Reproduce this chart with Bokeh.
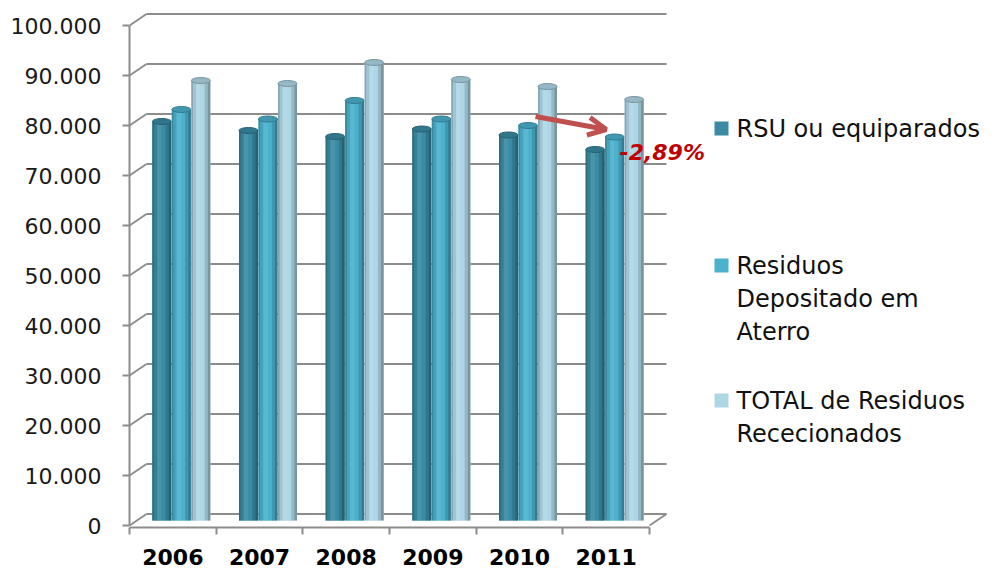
import numpy as np
from bokeh.plotting import figure
from bokeh.models import (Range1d, FixedTicker, Label, Arrow, OpenHead)
from bokeh.embed import file_html
from bokeh.resources import INLINE

# ---------------- data ----------------
years = ["2006", "2007", "2008", "2009", "2010", "2011"]
rsu = [79800, 78000, 76800, 78300, 77100, 74200]
aterro = [82200, 80300, 84000, 80300, 79000, 76700]
total = [88000, 87400, 91600, 88200, 86800, 84200]
legend_lines = [["RSU ou equiparados"],
                ["Residuos", "Depositado em", "Aterro"],
                ["TOTAL de Residuos", "Rececionados"]]
y_ticks = [0, 10000, 20000, 30000, 40000, 50000, 60000, 70000, 80000, 90000, 100000]
y_tick_labels = ["0", "10.000", "20.000", "30.000", "40.000", "50.000",
                 "60.000", "70.000", "80.000", "90.000", "100.000"]
change_label = "-2,89%"

# ---------------- layout ----------------
W, H = 995, 568
MB_L, MB_R, MB_T, MB_B = 129, 0, 10, 41
n = len(years)
PX_X = 520.0 / n          # px per category unit
PX_Y = 5.0 / 1000.0       # px per value unit
frame_w = W - MB_L - MB_R
frame_h = H - MB_T - MB_B
Y_LO = -400
x_range = Range1d(0, frame_w / PX_X)
y_range = Range1d(Y_LO, Y_LO + frame_h / PX_Y)
FRAME_BOTTOM = MB_T + frame_h

DX = 17 / PX_X            # back-wall depth offset
DY = 11.5 / PX_Y
BX = 8.5 / PX_X           # bar depth offset
BY = 5 / PX_Y

p = figure(width=W, height=H, x_range=x_range, y_range=y_range,
           output_backend="svg", toolbar_location=None,
           min_border_left=MB_L, min_border_right=MB_R,
           min_border_top=MB_T, min_border_bottom=MB_B)
p.outline_line_color = None
p.xgrid.visible = False
p.ygrid.visible = False
p.background_fill_color = "white"
p.border_fill_color = "white"

GRID = "#8c8c8c"

# back wall grid lines and side-wall diagonals
yt = np.array(y_ticks, dtype=float)
p.segment(x0=np.full(len(yt), DX), y0=yt + DY, x1=np.full(len(yt), n + DX), y1=yt + DY,
          line_color=GRID, line_width=2)
p.segment(x0=np.zeros(len(yt)), y0=yt, x1=np.full(len(yt), DX), y1=yt + DY,
          line_color=GRID, line_width=2)
# floor right diagonal
p.segment(x0=[n], y0=[0], x1=[n + DX], y1=[DY], line_color=GRID, line_width=2)


def shade(hexcol, f):
    h = hexcol.lstrip("#")
    r, g, b = (int(h[i:i + 2], 16) for i in (0, 2, 4))
    if f >= 1:
        t = f - 1
        r, g, b = (int(c + (255 - c) * t) for c in (r, g, b))
    else:
        r, g, b = (int(c * f) for c in (r, g, b))
    return "#%02x%02x%02x" % (r, g, b)


base_cols = ["#3a8ba3", "#4bb1cd", "#aed6e5"]
series = [rsu, aterro, total]
cx = np.arange(n) + 0.5
bar_w = 19 / PX_X
offs = [-19.5 / PX_X, 0.0, 19.5 / PX_X]
profile = [(0.00, 0.10, 0.78), (0.10, 0.25, 0.92), (0.25, 0.50, 1.08),
           (0.50, 0.70, 1.0), (0.70, 0.86, 0.86), (0.86, 1.00, 0.70)]

for s, vals in enumerate(series):
    v = np.array(vals, dtype=float)
    xc = cx + BX + offs[s]
    p.vbar(x=xc, width=bar_w, top=v + BY, bottom=BY,
           fill_color=base_cols[s], line_color=None)
    for f0, f1, fac in profile:
        p.vbar(x=xc - bar_w / 2 + bar_w * (f0 + f1) / 2, width=bar_w * (f1 - f0),
               top=v + BY, bottom=BY, fill_color=shade(base_cols[s], fac),
               line_color=None)
    p.ellipse(x=xc, y=v + BY, width=bar_w, height=6, height_units="screen",
              fill_color=shade(base_cols[s], 0.86), line_color=shade(base_cols[s], 0.7),
              line_width=1)

# ---------------- axes ----------------
ya = p.yaxis[0]
ya.ticker = FixedTicker(ticks=y_ticks, minor_ticks=[])
ya.major_label_overrides = dict(zip(y_ticks, y_tick_labels))
ya.bounds = (y_ticks[0], y_ticks[-1])
ya.major_tick_out = 7
ya.major_tick_in = 0
ya.minor_tick_out = 0
ya.minor_tick_in = 0
ya.axis_line_color = GRID
ya.axis_line_width = 2
ya.major_tick_line_color = GRID
ya.major_tick_line_width = 2
ya.major_label_standoff = 21
ya.major_label_text_font = "DejaVu Sans"
ya.major_label_text_font_size = "22px"
ya.major_label_text_color = "#1a1a1a"

xa = p.xaxis[0]
xa.ticker = FixedTicker(ticks=list(cx), minor_ticks=list(range(n + 1)))
xa.major_label_overrides = {float(c): y for c, y in zip(cx, years)}
xa.bounds = (0, n)
xa.major_tick_out = 0
xa.major_tick_in = 0
xa.minor_tick_out = 7
xa.minor_tick_in = 0
xa.minor_tick_line_color = GRID
xa.minor_tick_line_width = 2
xa.axis_line_color = GRID
xa.axis_line_width = 2
xa.major_label_standoff = 14
xa.major_label_text_font = "DejaVu Sans"
xa.major_label_text_font_style = "bold"
xa.major_label_text_font_size = "22px"
xa.major_label_text_color = "#000000"

# ---------------- legend (square + text lines) ----------------
SQ_X = 721          # page x of square centre
TXT_X = 736         # page x where text begins
LINE_H = 33
first_center = [128, 265, 400]   # page y of first line of each entry


def to_data(px, py):
    return px / PX_X - 0.0 - MB_L / PX_X, Y_LO + (FRAME_BOTTOM - py) / PX_Y


sq = [to_data(SQ_X, c) for c in first_center]
p.scatter(x=[q[0] for q in sq], y=[q[1] for q in sq], marker="square", size=14,
          fill_color=base_cols, line_color=None)
for i in range(3):
    for k, line in enumerate(legend_lines[i]):
        p.add_layout(Label(x=TXT_X - MB_L, y=FRAME_BOTTOM - (first_center[i] + k * LINE_H),
                           x_units="screen", y_units="screen", text=line,
                           text_font="DejaVu Sans", text_font_size="24px",
                           text_color="#111111", text_baseline="middle"))

# ---------------- annotation ----------------
p.add_layout(Arrow(end=OpenHead(size=18, line_color="#c0504d", line_width=5),
                   x_start=4.685, y_start=81800, x_end=5.50, y_end=79200,
                   line_color="#c0504d", line_width=5))
p.add_layout(Label(x=5.654, y=74600, text=change_label, text_font="DejaVu Sans",
                   text_font_style="bold italic", text_font_size="22px",
                   text_color="#c00000", text_baseline="middle"))

open("out.html", "w").write(file_html(p, INLINE))
